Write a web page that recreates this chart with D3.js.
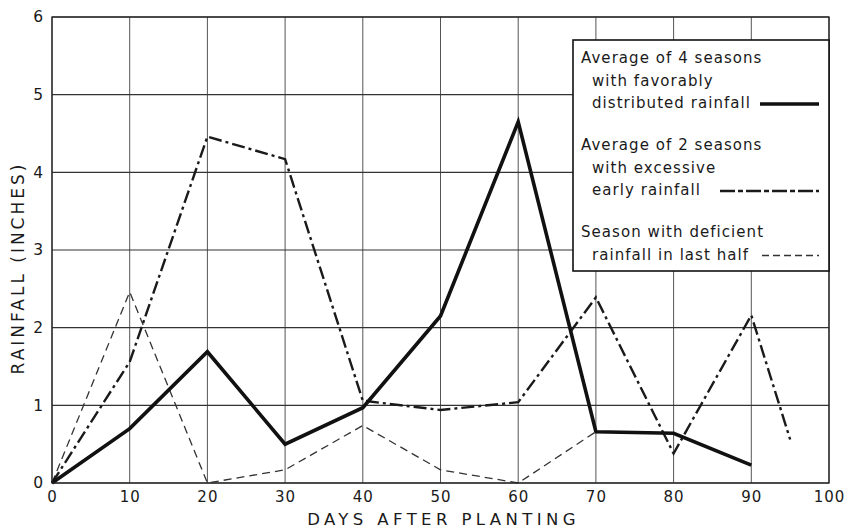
<!DOCTYPE html>
<html>
<head>
<meta charset="utf-8">
<script src="https://cdn.jsdelivr.net/npm/d3@7"></script>
<style>
  html, body { margin: 0; padding: 0; background: #fff; }
  svg text { font-family: "DejaVu Sans", sans-serif; fill: #1a1a1a; }
</style>
</head>
<body>
<div id="chart"></div>
<script>
// days after planting for each series
const daysFavorable = [0, 10, 20, 30, 40, 50, 60, 70, 80, 90];
const favorable = [0, 0.7, 1.69, 0.5, 0.97, 2.15, 4.65, 0.66, 0.64, 0.23];

const daysExcessive = [0, 10, 20, 30, 40, 50, 60, 70, 80, 90, 95];
const excessive = [0, 1.56, 4.46, 4.17, 1.06, 0.94, 1.04, 2.39, 0.38, 2.16, 0.56];

const daysDeficient = [0, 10, 20, 30, 40, 50, 60, 70];
const deficient = [0, 2.46, 0, 0.17, 0.74, 0.17, 0, 0.66];

const xTicks = [0, 10, 20, 30, 40, 50, 60, 70, 80, 90, 100];
const yTicks = [0, 1, 2, 3, 4, 5, 6];

const legendItems = [
  { lines: ['Average of 4 seasons', 'with favorably', 'distributed rainfall'], style: 'favorable' },
  { lines: ['Average of 2 seasons', 'with excessive', 'early rainfall'], style: 'excessive' },
  { lines: ['Season with deficient', 'rainfall in last half'], style: 'deficient' }
];

const W = 846, H = 532;
const margin = { top: 17, right: 17, bottom: 49, left: 52 };
const width = W - margin.left - margin.right;
const height = H - margin.top - margin.bottom;

const styles = {
  favorable: { width: 3.6, dash: null, color: '#111' },
  excessive: { width: 2.4, dash: '13,4,3,4', color: '#1a1a1a' },
  deficient: { width: 1.3, dash: '8,5', color: '#333' }
};

const svg = d3.select('#chart').append('svg')
  .attr('width', W).attr('height', H);

const g = svg.append('g')
  .attr('transform', `translate(${margin.left},${margin.top})`);

const x = d3.scaleLinear().domain([0, 100]).range([0, width]);
const y = d3.scaleLinear().domain([0, 6]).range([height, 0]);

// grid
g.append('g').selectAll('line.v').data(xTicks).enter().append('line')
  .attr('x1', d => x(d)).attr('x2', d => x(d))
  .attr('y1', 0).attr('y2', height)
  .attr('stroke', '#555').attr('stroke-width', 1);
g.append('g').selectAll('line.h').data(yTicks).enter().append('line')
  .attr('x1', 0).attr('x2', width)
  .attr('y1', d => y(d)).attr('y2', d => y(d))
  .attr('stroke', '#333').attr('stroke-width', 1.2);

// axes labels
const xAxis = g.append('g')
  .attr('transform', `translate(0,${height})`)
  .call(d3.axisBottom(x).tickValues(xTicks).tickSize(0).tickPadding(8).tickFormat(d3.format('d')));
xAxis.select('.domain').remove();
xAxis.selectAll('text').style('font-size', '15px').style('letter-spacing', '1px').attr('fill', '#1a1a1a');

const yAxis = g.append('g')
  .call(d3.axisLeft(y).tickValues(yTicks).tickSize(0).tickPadding(9).tickFormat(d3.format('d')));
yAxis.select('.domain').remove();
yAxis.selectAll('text').style('font-size', '15.5px').attr('fill', '#1a1a1a');

svg.append('text')
  .attr('x', margin.left + width / 2 + 3)
  .attr('y', 525)
  .attr('text-anchor', 'middle')
  .style('font-size', '16.5px')
  .style('letter-spacing', '4.4px')
  .text('DAYS AFTER PLANTING');

svg.append('text')
  .attr('transform', 'translate(24,268) rotate(-90)')
  .attr('text-anchor', 'middle')
  .style('font-size', '17px')
  .style('letter-spacing', '3px')
  .text('RAINFALL (INCHES)');

// lines
const line = d3.line().x(d => x(d[0])).y(d => y(d[1]));
function drawSeries(days, vals, st) {
  const s = styles[st];
  g.append('path')
    .datum(days.map((d, i) => [d, vals[i]]))
    .attr('fill', 'none')
    .attr('stroke', s.color)
    .attr('stroke-width', s.width)
    .attr('stroke-linejoin', 'miter')
    .attr('stroke-dasharray', s.dash)
    .attr('d', line);
}
drawSeries(daysDeficient, deficient, 'deficient');
drawSeries(daysExcessive, excessive, 'excessive');
drawSeries(daysFavorable, favorable, 'favorable');

// frame
g.append('rect')
  .attr('width', width).attr('height', height)
  .attr('fill', 'none').attr('stroke', '#222').attr('stroke-width', 1.3);

// legend
const lg = svg.append('g');
lg.append('rect')
  .attr('x', 573).attr('y', 40).attr('width', 256).attr('height', 231)
  .attr('fill', '#fff').attr('stroke', '#111').attr('stroke-width', 1.6);

const blockTop = [63, 150, 237];
const swatchStart = [760, 720, 762];
const swatchDash = { favorable: null, excessive: '15,3,5,3', deficient: '7,4' };
legendItems.forEach((item, k) => {
  let lastY = 0;
  item.lines.forEach((t, j) => {
    const ty = blockTop[k] + j * 22.5;
    const tx = j === 0 ? 581 : 592;
    lg.append('text')
      .attr('x', tx).attr('y', ty)
      .style('font-size', '15px')
      .style('letter-spacing', '1.05px')
      .text(t);
    lastY = ty;
  });
  const s = styles[item.style];
  lg.append('line')
    .attr('x1', swatchStart[k]).attr('x2', 819)
    .attr('y1', lastY - 4).attr('y2', lastY - 4)
    .attr('stroke', s.color)
    .attr('stroke-width', s.width)
    .attr('stroke-dasharray', swatchDash[item.style]);
});
</script>
</body>
</html>
